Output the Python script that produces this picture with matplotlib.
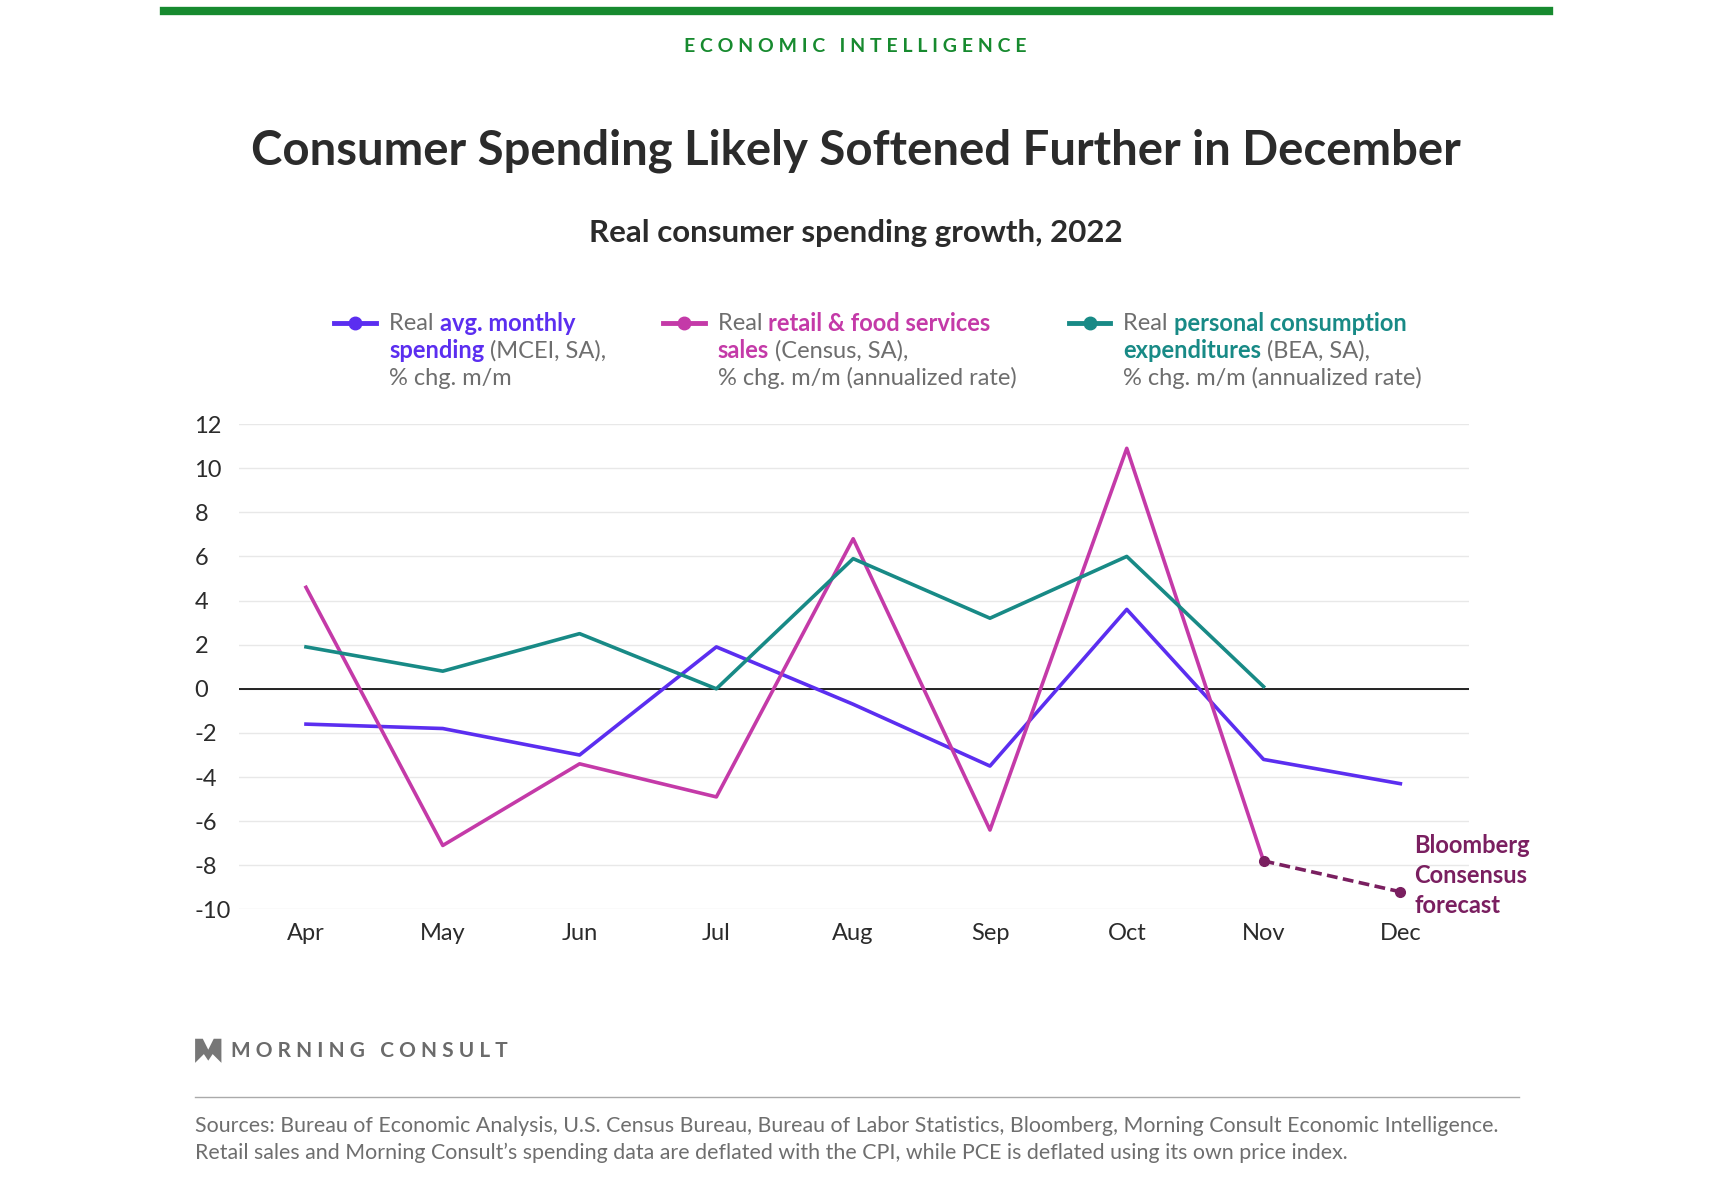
import matplotlib
matplotlib.use("Agg")
import matplotlib.pyplot as plt
from matplotlib.lines import Line2D
from matplotlib.patches import Polygon

months = ["Apr","May","Jun","Jul","Aug","Sep","Oct","Nov","Dec"]
mcei = [-1.6, -1.8, -3.0, 1.9, -0.7, -3.5, 3.6, -3.2, -4.3]
retail = [4.6, -7.1, -3.4, -4.9, 6.8, -6.4, 10.9, -7.8]
retail_forecast = [-7.8, -9.2]
pce = [1.9, 0.8, 2.5, 0.0, 5.9, 3.2, 6.0, 0.1]
yticks = list(range(-10, 13, 2))

BLUE = "#5b2ef0"; MAG = "#c43aa8"; TEAL = "#188a86"; FC = "#7a1f60"
GRAY = "#6e6e6e"; DARK = "#2b2b2b"
plt.rcParams['font.family'] = ['Lato', 'DejaVu Sans']

W, H = 1561.0, 1076.0
fig = plt.figure(figsize=(17.11, 11.79), dpi=100)
def fx(x): return x / W
def fy(y): return 1 - y / H

ax = fig.add_axes([fx(218), fy(830), fx(1340) - fx(218), fy(387) - fy(830)])
x = list(range(len(months)))
ax.plot(x, mcei, color=BLUE, lw=2.6, zorder=3)
ax.plot(x[:len(retail)], retail, color=MAG, lw=2.6, zorder=3)
ax.plot(x[:len(pce)], pce, color=TEAL, lw=2.6, zorder=3)
ax.plot(x[7:9], retail_forecast, color=FC, lw=2.6, ls=(0, (3, 1.5)), zorder=4)
ax.plot(x[7:9], retail_forecast, 'o', color=FC, ms=7, zorder=5)
ax.set_xlim(-0.49, 8.5)
ax.set_ylim(-10, 12)
ax.set_yticks(yticks)
ax.set_yticklabels([str(t) for t in yticks])
ax.set_xticks(x)
ax.set_xticklabels(months)
ax.axhline(0, color="black", lw=1.2, zorder=2)
ax.grid(axis='y', color="#e8e8e8", lw=1)
ax.set_axisbelow(True)
for s in ax.spines.values(): s.set_visible(False)
ax.tick_params(length=0, labelsize=17, colors=DARK)
ax.tick_params(axis='x', pad=10)
for lab in ax.get_yticklabels(): lab.set_horizontalalignment('left')
ax.yaxis.set_tick_params(pad=32)
ax.text(8.1, -6.6, "Bloomberg\nConsensus\nforecast", color=FC, fontsize=17, fontweight='bold',
        va='top', ha='left', linespacing=1.35)

# header
fig.add_artist(Line2D([fx(150), fx(1413)], [fy(10), fy(10)], color="#178a2f", lw=6))
fig.text(0.5, fy(42), "E C O N O M I C   I N T E L L I G E N C E", color="#178a2f", fontsize=14,
         ha='center', va='center', fontweight='bold')
fig.text(0.5, fy(138), "Consumer Spending Likely Softened Further in December", color=DARK,
         fontsize=34, fontweight='bold', ha='center', va='center')
fig.text(0.5, fy(213), "Real consumer spending growth, 2022", color=DARK,
         fontsize=22.5, fontweight='bold', ha='center', va='center')

# legend
fig.canvas.draw()
r = fig.canvas.get_renderer()
def rich(xp, yp, parts):
    cx = fx(xp)
    for txt, col, bold in parts:
        t = fig.text(cx, yp, txt, color=col, fontsize=17, fontweight='bold' if bold else 'normal',
                     ha='left', va='center')
        bb = t.get_window_extent(renderer=r)
        cx += bb.width / fig.bbox.width
legs = [
    (305, BLUE, [[("Real ", GRAY, False), ("avg. monthly", BLUE, True)],
                 [("spending", BLUE, True), (" (MCEI, SA),", GRAY, False)],
                 [("% chg. m/m", GRAY, False)]]),
    (605, MAG, [[("Real ", GRAY, False), ("retail & food services", MAG, True)],
                [("sales", MAG, True), (" (Census, SA),", GRAY, False)],
                [("% chg. m/m (annualized rate)", GRAY, False)]]),
    (975, TEAL, [[("Real ", GRAY, False), ("personal consumption", TEAL, True)],
                 [("expenditures", TEAL, True), (" (BEA, SA),", GRAY, False)],
                 [("% chg. m/m (annualized rate)", GRAY, False)]]),
]
for xs, col, lines in legs:
    fig.add_artist(Line2D([fx(xs), fx(xs + 38)], [fy(295), fy(295)], color=col, lw=3.5))
    fig.add_artist(Line2D([fx(xs + 19)], [fy(295)], color=col, marker='o', ms=9))
    for i, parts in enumerate(lines):
        rich(xs + 50, fy(295 + 25 * i), parts)

# footer logo
logo = [(178, 948), (185, 948), (190, 958), (195, 948), (202, 948), (202, 970), (194, 962), (190, 968), (186, 962), (178, 970)]
fig.add_artist(Polygon([(fx(a), fy(b)) for a, b in logo], closed=True, transform=fig.transFigure,
                       facecolor="#777777", edgecolor='none'))
fig.text(fx(211), fy(959), "M O R N I N G   C O N S U L T", color="#6b6b6b", fontsize=15, fontweight='bold',
         ha='left', va='center')
fig.add_artist(Line2D([fx(178), fx(1386)], [fy(1001), fy(1001)], color="#aaaaaa", lw=1))
fig.text(fx(178), fy(1028), "Sources: Bureau of Economic Analysis, U.S. Census Bureau, Bureau of Labor Statistics, Bloomberg, Morning Consult Economic Intelligence.",
         color=GRAY, fontsize=15.4, ha='left', va='center')
fig.text(fx(178), fy(1052), "Retail sales and Morning Consult\u2019s spending data are deflated with the CPI, while PCE is deflated using its own price index.",
         color=GRAY, fontsize=15.4, ha='left', va='center')

fig.savefig("out.png", dpi=100, facecolor="white")
